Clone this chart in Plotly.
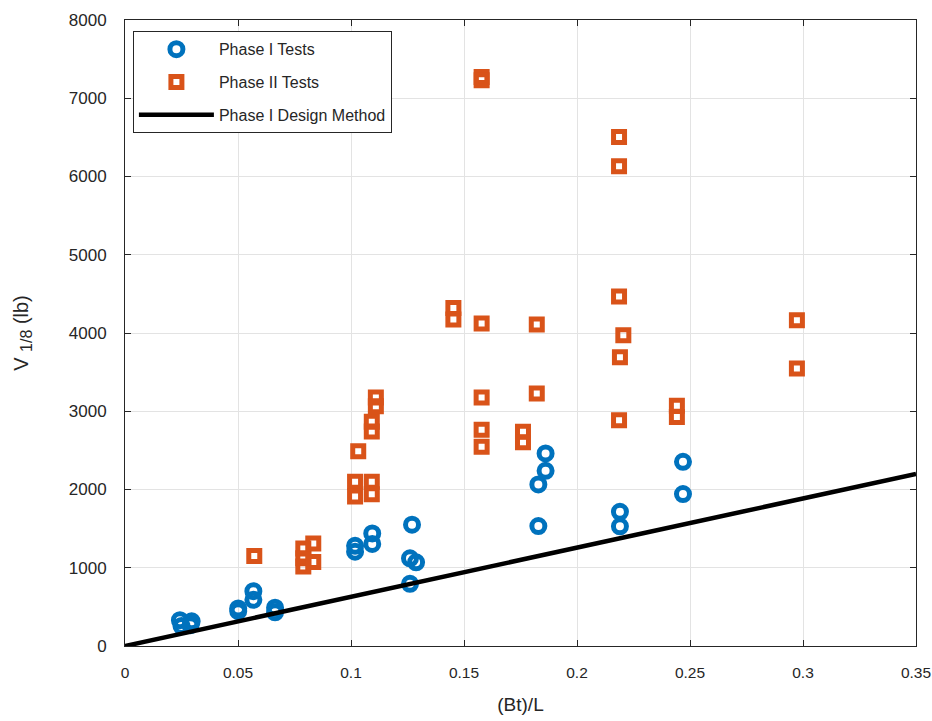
import plotly.graph_objects as go

# Phase I tests (circles)
phase1_x = [0.0243, 0.0250, 0.0295, 0.0290, 0.0501, 0.0501, 0.0568, 0.0568, 0.0664, 0.0664,
            0.1018, 0.1018, 0.1094, 0.1094, 0.1270, 0.1261, 0.1288, 0.1261,
            0.1829, 0.1829, 0.1861, 0.1861, 0.2190, 0.2190, 0.2469, 0.2469]
phase1_y = [330, 255, 315, 265, 480, 445, 700, 590, 490, 430,
            1280, 1205, 1439, 1305, 1550, 1120, 1070, 795,
            2065, 1533, 2461, 2239, 1715, 1530, 2354, 1941]

# Phase II tests (squares)
phase2_x = [0.0572, 0.0789, 0.0789, 0.0789, 0.0833, 0.0833,
            0.1018, 0.1018, 0.1032, 0.1092, 0.1092, 0.1092, 0.1092, 0.1110, 0.1110,
            0.1453, 0.1453, 0.1578, 0.1578, 0.1578, 0.1578, 0.1578, 0.1578,
            0.1761, 0.1761, 0.1822, 0.1822,
            0.2186, 0.2186, 0.2186, 0.2205, 0.2190, 0.2186,
            0.2442, 0.2442, 0.2973, 0.2973]
phase2_y = [1150, 1245, 1120, 1015, 1310, 1075,
            2100, 1910, 2490, 2100, 1940, 2865, 2740, 3176, 3065,
            4320, 4172, 7270, 7230, 4121, 3176, 2763, 2546,
            2737, 2605, 4108, 3227,
            6505, 6130, 4466, 3972, 3691, 2886,
            3069, 2925, 4163, 3546]

# Phase I design method line
design_x = [0.0, 0.35]
design_y = [0, 2200]

# Tick labels
x_ticks = [0, 0.05, 0.1, 0.15, 0.2, 0.25, 0.3, 0.35]
x_ticklabels = ["0", "0.05", "0.1", "0.15", "0.2", "0.25", "0.3", "0.35"]
y_ticks = [0, 1000, 2000, 3000, 4000, 5000, 6000, 7000, 8000]
y_ticklabels = ["0", "1000", "2000", "3000", "4000", "5000", "6000", "7000", "8000"]

BLUE = "#0072BD"
ORANGE = "#D95319"
TXT = "#262626"
FONT = "Liberation Sans, Arial, sans-serif"

fig = go.Figure()
fig.add_trace(go.Scatter(
    x=phase1_x, y=phase1_y, mode="markers", name="Phase I Tests", legendgroup="a",
    marker=dict(symbol="circle-open", size=13, color=BLUE, line=dict(width=5, color=BLUE)),
))
fig.add_trace(go.Scatter(
    x=phase2_x, y=phase2_y, mode="markers", name="Phase II Tests", legendgroup="b",
    marker=dict(symbol="square-open", size=11, color=ORANGE, line=dict(width=5, color=ORANGE)),
))
fig.add_trace(go.Scatter(
    x=design_x, y=design_y, mode="lines", name="Phase I Design Method", legendgroup="c",
    line=dict(color="black", width=4.5),
))

axis_common = dict(
    showgrid=True, gridcolor="#e3e3e3", gridwidth=1,
    showline=True, linecolor=TXT, linewidth=1, mirror="ticks",
    ticks="inside", ticklen=6, tickcolor=TXT,
    zeroline=False, automargin=False,
)

fig.update_layout(
    width=932, height=721,
    margin=dict(l=125, r=16, t=20, b=75),
    paper_bgcolor="white", plot_bgcolor="white",
    font=dict(family=FONT, size=16, color=TXT),
    showlegend=True,
    legend=dict(
        x=0.010, y=0.982, xanchor="left", yanchor="top",
        bgcolor="white", bordercolor=TXT, borderwidth=1,
        font=dict(family=FONT, size=16, color=TXT),
        tracegroupgap=9, itemwidth=75,
    ),
    xaxis=dict(
        range=[0, 0.35], tickmode="array", tickvals=x_ticks, ticktext=x_ticklabels,
        tickfont=dict(family=FONT, size=15.5, color=TXT),
        title=dict(text="(Bt)/L", font=dict(family=FONT, size=19, color=TXT), standoff=18),
        ticklabelstandoff=12,
        **axis_common,
    ),
    yaxis=dict(
        range=[0, 8000], tickmode="array", tickvals=y_ticks, ticktext=y_ticklabels,
        tickfont=dict(family=FONT, size=17, color=TXT),
        title=dict(text="V <sub><span style='font-size:16px'>1/8</span></sub> (lb)",
                   font=dict(family=FONT, size=20, color=TXT), standoff=34),
        ticklabelstandoff=14,
        **axis_common,
    ),
)

fig.write_html("out.html")
